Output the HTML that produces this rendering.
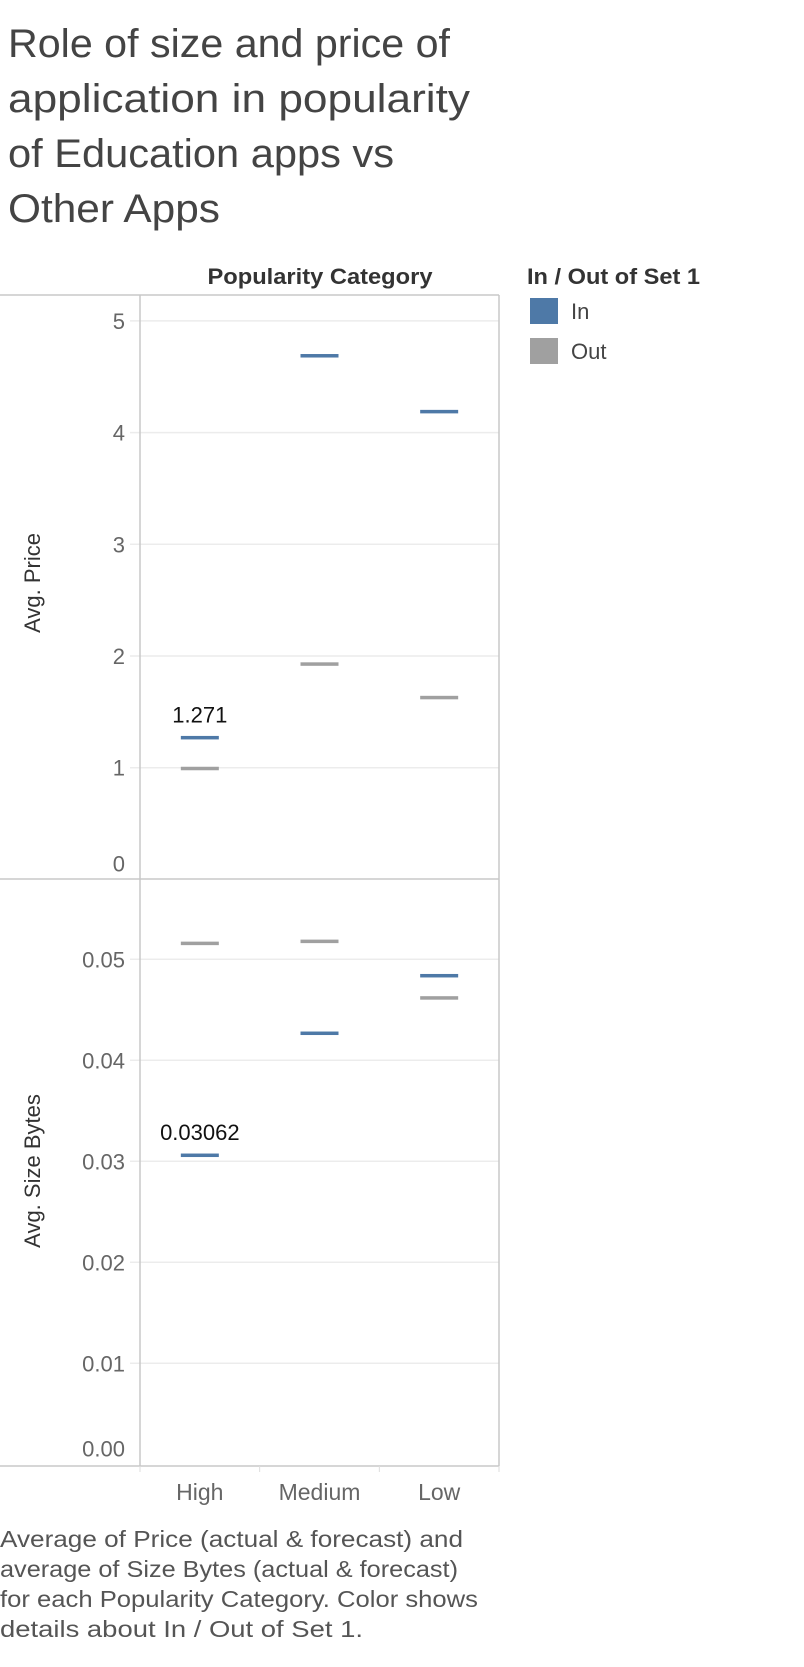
<!DOCTYPE html>
<html><head><meta charset="utf-8">
<style>
body{margin:0;background:#fff;width:804px;height:1662px;overflow:hidden;font-family:"Liberation Sans",sans-serif;}
</style></head>
<body>
<svg id="chart" width="804" height="1662" xmlns="http://www.w3.org/2000/svg" font-family="Liberation Sans, sans-serif">
<g fill="#444" font-size="40" font-weight="300">
<text x="8" y="57" textLength="442" lengthAdjust="spacingAndGlyphs">Role of size and price of</text>
<text x="8" y="112" textLength="462" lengthAdjust="spacingAndGlyphs">application in popularity</text>
<text x="8" y="167" textLength="386" lengthAdjust="spacingAndGlyphs">of Education apps vs</text>
<text x="8" y="222" textLength="212" lengthAdjust="spacingAndGlyphs">Other Apps</text>
</g>
<text x="320" y="284" text-anchor="middle" font-size="22" font-weight="bold" fill="#333" textLength="225" lengthAdjust="spacingAndGlyphs">Popularity Category</text>
<g>
<text x="527" y="284" font-size="22" font-weight="bold" fill="#333" textLength="173" lengthAdjust="spacingAndGlyphs">In / Out of Set 1</text>
<rect x="530" y="298" width="28" height="26" fill="#4e79a7"/>
<text x="571" y="319" font-size="22" fill="#444">In</text>
<rect x="530" y="338" width="28" height="26" fill="#a0a0a0"/>
<text x="571" y="359" font-size="22" fill="#444">Out</text>
</g>
<g id="plot"></g>
<g fill="#555" font-size="23">
<text x="0" y="1547" textLength="463" lengthAdjust="spacingAndGlyphs">Average of Price (actual &amp; forecast)  and</text>
<text x="0" y="1577" textLength="458" lengthAdjust="spacingAndGlyphs">average of Size Bytes (actual &amp; forecast)</text>
<text x="0" y="1607" textLength="478" lengthAdjust="spacingAndGlyphs">for each Popularity Category.  Color shows</text>
<text x="0" y="1637" textLength="363" lengthAdjust="spacingAndGlyphs">details about In / Out of Set 1.</text>
</g>
</svg>
<script>
const categories = ["High","Medium","Low"];
const priceIn = [1.271, 4.69, 4.19];
const priceOut = [0.995, 1.93, 1.63];
const sizeIn = [0.03062, 0.0427, 0.0484];
const sizeOut = [0.0516, 0.0518, 0.0462];
const priceTicks = [0,1,2,3,4,5];
const sizeTicks = [0,0.01,0.02,0.03,0.04,0.05];
const priceTickLabels = ["0","1","2","3","4","5"];
const sizeTickLabels = ["0.00","0.01","0.02","0.03","0.04","0.05"];
const priceLabel = "1.271";
const sizeLabel = "0.03062";

const NS = "http://www.w3.org/2000/svg";
const g = document.getElementById('plot');
function mk(tag, attrs, parent){const e=document.createElementNS(NS,tag);for(const k in attrs)e.setAttribute(k,attrs[k]);(parent||g).appendChild(e);return e;}
const L=140,R=499,colW=(R-L)/3;
const xC = i => L + colW*(i+0.5);
const yPrice = v => 879.4 - v*111.7;
const ySize = v => 1464.3 - v/0.01*101;

function panel(name, top, bottom, ticks, labels, yf, inVals, outVals, title, titleY, lbl){
  const pg = mk('g', {});
  
  
  ticks.forEach((t,i)=>{
    const y=yf(t);
    if(i>0){
      const gl=mk('line',{x1:130,x2:R,y1:y,y2:y,stroke:'#ececec','stroke-width':1.5},pg);
      
      
    }
    const tl=mk('text',{x:125,y:(i===0?y-8:y+8),'text-anchor':'end','font-size':22,fill:'#666'},pg);
    tl.textContent=labels[i];
    
    
  });
  const at=mk('text',{x:0,y:0,transform:`translate(40,${titleY}) rotate(-90)`,'text-anchor':'middle','font-size':22,fill:'#333'},pg);
  at.textContent=title;
  
  
  categories.forEach((c,i)=>{
    const bo=mk('rect',{x:xC(i)-19,y:yf(outVals[i])-1.5,width:38,height:3.5,fill:'#a0a0a0'},pg);
    
    
    const bi=mk('rect',{x:xC(i)-19,y:yf(inVals[i])-1.5,width:38,height:3.5,fill:'#4e79a7'},pg);
    
    
  });
  const vl=mk('text',{x:xC(0),y:yf(inVals[0])-15,'text-anchor':'middle','font-size':22,fill:'#111'},pg);
  vl.textContent=lbl;
  
  
}
panel('price-panel',295,879,priceTicks,priceTickLabels,yPrice,priceIn,priceOut,'Avg. Price',583,priceLabel);
panel('size-panel',879,1466,sizeTicks,sizeTickLabels,ySize,sizeIn,sizeOut,'Avg. Size Bytes',1171,sizeLabel);

[[0,295,R,295],[L,295,L,1466],[R,295,R,1466],[0,879,R,879],[0,1466,R,1466]].forEach(a=>{
  const b=mk('line',{x1:a[0],y1:a[1],x2:a[2],y2:a[3],stroke:'#c8c8c8','stroke-width':1.5});
  
  
});
for(let i=0;i<=3;i++){
  const t=mk('line',{x1:L+colW*i,x2:L+colW*i,y1:1466,y2:1472,stroke:'#ddd','stroke-width':1});
  
  
}
categories.forEach((c,i)=>{
  const t=mk('text',{x:xC(i),y:1500,'text-anchor':'middle','font-size':23,fill:'#666'});
  t.textContent=c;
  
  
});
</script>
</body></html>
